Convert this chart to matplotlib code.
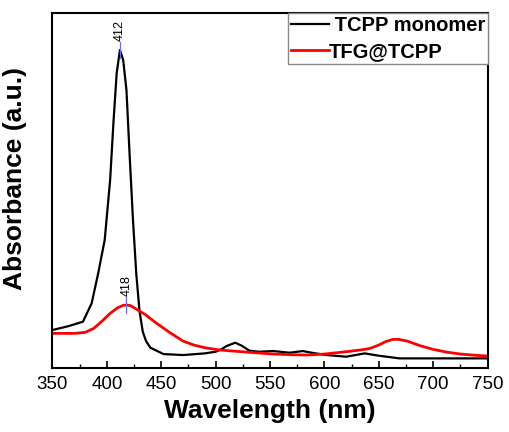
import matplotlib
matplotlib.use("Agg")
import matplotlib.pyplot as plt

plt.rcParams['font.family'] = ['Liberation Sans', 'DejaVu Sans']

wl_black = [350, 365, 378, 386, 392, 398, 403, 406, 409, 412, 415, 418, 421, 424, 427, 430, 433, 436, 440, 452, 470, 490, 500, 505, 510, 518, 524, 531, 540, 553, 568, 580, 590, 602, 620, 637, 650, 669, 700, 750]
abs_black = [0.113, 0.125, 0.138, 0.193, 0.283, 0.383, 0.563, 0.733, 0.883, 0.953, 0.923, 0.833, 0.633, 0.443, 0.283, 0.170, 0.108, 0.080, 0.060, 0.041, 0.038, 0.043, 0.048, 0.055, 0.065, 0.075, 0.066, 0.051, 0.048, 0.050, 0.045, 0.050, 0.044, 0.038, 0.033, 0.043, 0.036, 0.028, 0.028, 0.028]

wl_red = [350, 370, 380, 388, 395, 403, 410, 415, 418, 422, 427, 435, 445, 458, 470, 480, 490, 504, 520, 540, 553, 570, 584, 600, 620, 635, 642, 650, 656, 663, 668, 676, 688, 700, 712, 725, 740, 750]
abs_red = [0.103, 0.103, 0.106, 0.118, 0.138, 0.163, 0.180, 0.187, 0.188, 0.186, 0.176, 0.160, 0.135, 0.105, 0.080, 0.068, 0.060, 0.053, 0.049, 0.044, 0.041, 0.039, 0.038, 0.041, 0.048, 0.054, 0.058, 0.068, 0.078, 0.085, 0.085, 0.080, 0.066, 0.055, 0.047, 0.041, 0.037, 0.035]

labels = [" TCPP monomer", "TFG@TCPP"]
peaks = [412, 418]
peak_vals = [0.953, 0.188]

fig = plt.figure(figsize=(5.09, 4.32), dpi=100)
ax = fig.add_axes([0.1031, 0.1488, 0.8549, 0.8204])

ax.plot(wl_black, abs_black, color='black', lw=1.6, label=labels[0])
ax.plot(wl_red, abs_red, color='#ff0000', lw=2.0, label=labels[1])

for p, v in zip(peaks, peak_vals):
    ax.plot([p, p], [v - 0.025, v + 0.025], color='#6a6aff', lw=0.9)
    ax.text(p, v + 0.027, str(p), rotation=90, ha='center', va='bottom', fontsize=9)

ax.set_xlim(350, 750)
ax.set_ylim(0, 1.063)
ax.set_xticks(range(350, 751, 50))
ax.set_xticks(range(350, 751, 25), minor=True)
ax.set_yticks([])
ax.tick_params(axis='x', which='major', direction='in', length=5, width=1.2, labelsize=13.5, pad=6)
ax.tick_params(axis='x', which='minor', direction='in', length=3, width=1.0)
for s in ax.spines.values():
    s.set_linewidth(1.5)

ax.set_xlabel("Wavelength (nm)", fontsize=19, fontweight='bold', labelpad=4)
ax.set_ylabel("Absorbance (a.u.)", fontsize=19, fontweight='bold', labelpad=8)
ax.yaxis.set_label_coords(-0.058, 0.535)

leg = ax.legend(loc='upper right', bbox_to_anchor=(1.0, 1.0), borderaxespad=0,
                fancybox=False, edgecolor='#888888', framealpha=1,
                prop={'weight': 'bold', 'size': 14.5}, handlelength=1.9,
                handletextpad=0.0, borderpad=0.12, labelspacing=0.38)
leg.get_frame().set_linewidth(1.0)

fig.savefig("out.png", dpi=100)
